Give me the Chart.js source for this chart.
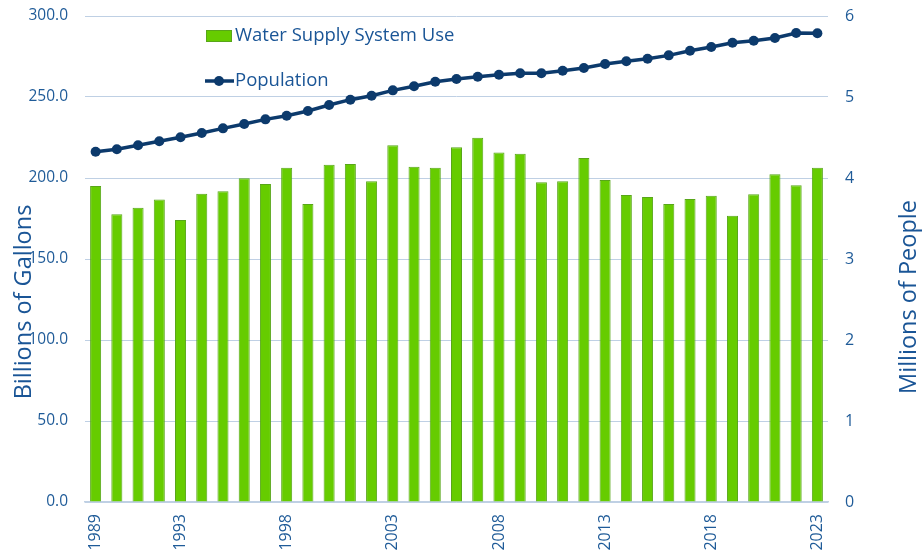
<!DOCTYPE html>
<html>
<head>
<meta charset="utf-8">
<script src="https://cdn.jsdelivr.net/npm/chart.js@4.4.1/dist/chart.umd.min.js"></script>
<style>
html,body{margin:0;padding:0;background:#fff;}
#wrap{position:relative;width:922px;height:556px;}
</style>
</head>
<body>
<div id="wrap"><canvas id="c" width="922" height="556"></canvas></div>
<script>
const years = [1989,1990,1991,1992,1993,1994,1995,1996,1997,1998,1999,2000,2001,2002,2003,2004,2005,2006,2007,2008,2009,2010,2011,2012,2013,2014,2015,2016,2017,2018,2019,2020,2021,2022,2023];
const waterUse = [195.1,177.6,181.7,186.8,174.1,190.3,191.8,199.8,196.3,206.4,184.0,208.2,208.6,198.0,220.2,207.0,206.4,219.0,224.9,215.8,215.0,197.3,198.0,212.3,198.8,189.5,188.3,184.0,187.0,189.1,176.7,189.9,202.3,195.5,206.4];
const population = [4.325,4.354,4.404,4.453,4.502,4.556,4.613,4.667,4.724,4.769,4.827,4.901,4.967,5.016,5.082,5.132,5.189,5.222,5.251,5.275,5.293,5.293,5.325,5.358,5.407,5.441,5.473,5.514,5.572,5.617,5.670,5.695,5.728,5.790,5.786];
const shownYearLabels = [1989,1993,1998,2003,2008,2013,2018,2023];
const seriesNames = ['Water Supply System Use','Population'];
const leftTitle = 'Billions of Gallons';
const rightTitle = 'Millions of People';

const FONT = '"Open Sans", "DejaVu Sans", sans-serif';
const TICK = '#1f5b98';
const TITLE = '#1a5596';
const GREEN = '#66cc00';
const GREEN_EDGE = '#58a619';
const NAVY = '#0c3a6c';
const GRID = '#bfd0e4';

const overlay = {
  id: 'overlay',
  afterDraw(chart) {
    const ctx = chart.ctx;
    ctx.save();
    // legend
    ctx.font = '18.5px ' + FONT;
    ctx.textBaseline = 'middle';
    ctx.fillStyle = GREEN;
    ctx.strokeStyle = GREEN_EDGE;
    ctx.lineWidth = 1;
    ctx.fillRect(206, 30, 26, 12);
    ctx.strokeRect(206.5, 30.5, 25, 11);
    ctx.fillStyle = TITLE;
    ctx.textAlign = 'left';
    ctx.fillText(seriesNames[0], 235, 36);
    ctx.strokeStyle = NAVY;
    ctx.lineWidth = 3.5;
    ctx.beginPath(); ctx.moveTo(205, 81); ctx.lineTo(234, 81); ctx.stroke();
    ctx.fillStyle = NAVY;
    ctx.beginPath(); ctx.arc(219, 81, 5, 0, Math.PI*2); ctx.fill();
    ctx.fillStyle = TITLE;
    ctx.fillText(seriesNames[1], 235, 81);
    // axis titles
    ctx.font = '23.5px ' + FONT;
    ctx.textAlign = 'center';
    ctx.fillStyle = TITLE;
    ctx.save();
    ctx.translate(24, 302);
    ctx.rotate(-Math.PI/2);
    ctx.fillText(leftTitle, 0, 0);
    ctx.restore();
    ctx.save();
    ctx.translate(909, 297);
    ctx.rotate(-Math.PI/2);
    ctx.fillText(rightTitle, 0, 0);
    ctx.restore();
    ctx.restore();
  }
};

new Chart(document.getElementById('c'), {
  data: {
    labels: years.map(String),
    datasets: [
      {
        type: 'line',
        label: seriesNames[1],
        data: population,
        yAxisID: 'y1',
        borderColor: NAVY,
        backgroundColor: NAVY,
        borderWidth: 3.5,
        pointRadius: 5,
        pointBackgroundColor: NAVY,
        pointBorderColor: NAVY,
        pointBorderWidth: 0,
        tension: 0,
        order: 0
      },
      {
        type: 'bar',
        label: seriesNames[0],
        data: waterUse,
        yAxisID: 'y',
        backgroundColor: GREEN,
        borderColor: GREEN_EDGE,
        borderWidth: 1,
        categoryPercentage: 1,
        barPercentage: 0.52,
        order: 1
      }
    ]
  },
  options: {
    responsive: false,
    animation: false,
    devicePixelRatio: 1,
    layout: { padding: { top: 16, left: 0, right: 0, bottom: 0 } },
    plugins: { legend: { display: false }, tooltip: { enabled: false } },
    scales: {
      x: {
        offset: true,
        grid: { display: false, drawTicks: false },
        border: { display: true, color: GRID, width: 1.5 },
        ticks: {
          autoSkip: false,
          maxRotation: 90,
          minRotation: 90,
          padding: 12,
          color: TICK,
          font: { family: FONT, size: 16 },
          callback: function(v, i) { const y = years[i]; return shownYearLabels.includes(y) ? String(y) : ''; }
        },
        afterFit(s) { s.height = 54; s.paddingLeft = 0; s.paddingRight = 0; }
      },
      y: {
        position: 'left',
        min: 0, max: 300,
        grid: { color: GRID, lineWidth: 1, drawTicks: false },
        border: { display: false },
        ticks: {
          stepSize: 50,
          padding: 17,
          color: TICK,
          font: { family: FONT, size: 15.5 },
          callback: v => v.toFixed(1)
        },
        afterFit(s) { s.width = 85; s.paddingTop = 0; s.paddingBottom = 0; }
      },
      y1: {
        position: 'right',
        min: 0, max: 6,
        grid: { display: false, drawOnChartArea: false, tickLength: 5, color: GRID },
        border: { display: false },
        ticks: {
          stepSize: 1,
          padding: 12,
          color: TICK,
          font: { family: FONT, size: 16 },
          callback: v => String(v)
        },
        afterFit(s) { s.width = 94; s.paddingTop = 0; s.paddingBottom = 0; }
      }
    }
  },
  plugins: [overlay]
});
</script>
</body>
</html>
